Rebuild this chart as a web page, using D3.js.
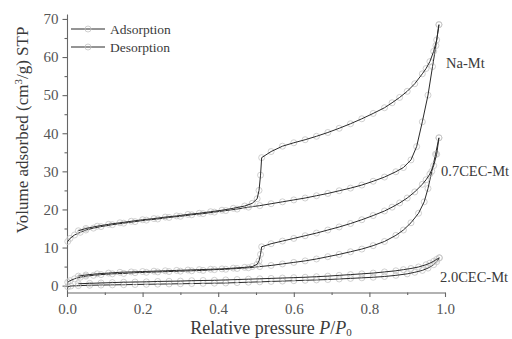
<!DOCTYPE html>
<html>
<head>
<meta charset="utf-8">
<script src="https://cdn.jsdelivr.net/npm/d3@7"></script>
<style>
	body { margin: 0; background: #fff; }
	svg { display: block; }
	text { font-family: "Liberation Serif", "Times New Roman", serif; fill: #3a3a3a; }
	.axis path, .axis line { stroke: #666; }
	.axis text { font-size: 15px; fill: #555; }
</style>
</head>
<body>
<div id="chart"></div>
<script>
// Isotherm data: [P/P0, volume]
var naAds = [[0.002,11.6],[0.008,12.4],[0.02,13.3],[0.035,14.0],[0.05,14.6],[0.07,15.1],[0.09,15.5],[0.12,16.0],[0.15,16.4],[0.18,16.8],[0.21,17.2],[0.24,17.5],[0.27,17.9],[0.30,18.2],[0.33,18.6],[0.36,18.9],[0.39,19.3],[0.42,19.7],[0.45,20.1],[0.48,20.6],[0.51,21.0],[0.54,21.5],[0.57,22.0],[0.60,22.5],[0.63,23.0],[0.66,23.6],[0.69,24.2],[0.72,24.9],[0.75,25.6],[0.78,26.4],[0.81,27.4],[0.84,28.5],[0.87,29.9],[0.89,31.0],[0.91,33.0],[0.925,36.5],[0.94,43.0],[0.955,50.0],[0.967,57.5],[0.976,63.0],[0.984,68.5]];
var naDes = [[0.984,68.5],[0.978,64.5],[0.97,61.5],[0.96,58.8],[0.95,57.0],[0.94,55.6],[0.92,53.0],[0.90,51.0],[0.88,49.4],[0.86,48.0],[0.84,46.7],[0.81,45.2],[0.78,43.8],[0.75,42.5],[0.72,41.3],[0.69,40.2],[0.66,39.2],[0.63,38.3],[0.60,37.5],[0.57,36.6],[0.54,35.2],[0.515,33.6],[0.512,29.0],[0.508,25.0],[0.503,22.8],[0.49,21.6],[0.47,20.9],[0.44,20.3],[0.41,19.8],[0.38,19.4],[0.35,19.0],[0.32,18.7],[0.29,18.3],[0.26,18.0],[0.23,17.6],[0.20,17.3],[0.17,16.9],[0.14,16.5],[0.11,16.1],[0.08,15.6],[0.05,15.0],[0.03,14.4]];
var cec07Ads = [[0.002,0.9],[0.008,1.3],[0.02,1.8],[0.035,2.2],[0.05,2.5],[0.07,2.7],[0.09,2.9],[0.12,3.1],[0.15,3.2],[0.18,3.4],[0.21,3.5],[0.24,3.6],[0.27,3.7],[0.30,3.8],[0.33,3.9],[0.36,4.0],[0.39,4.2],[0.42,4.3],[0.45,4.5],[0.48,4.7],[0.51,5.0],[0.54,5.3],[0.57,5.7],[0.60,6.1],[0.63,6.5],[0.66,7.0],[0.69,7.6],[0.72,8.2],[0.75,8.9],[0.78,9.6],[0.81,10.5],[0.84,11.6],[0.87,13.2],[0.89,14.6],[0.91,16.5],[0.93,19.0],[0.945,22.0],[0.955,25.5],[0.965,30.0],[0.975,34.5],[0.984,38.8]];
var cec07Des = [[0.984,38.8],[0.978,34.5],[0.97,31.5],[0.96,29.3],[0.95,27.8],[0.94,26.6],[0.92,24.6],[0.90,23.0],[0.88,21.7],[0.86,20.6],[0.84,19.6],[0.81,18.4],[0.78,17.3],[0.75,16.3],[0.72,15.4],[0.69,14.6],[0.66,13.8],[0.63,13.1],[0.60,12.4],[0.57,11.7],[0.54,11.0],[0.515,10.2],[0.512,8.2],[0.508,6.5],[0.503,5.6],[0.49,5.0],[0.47,4.8],[0.44,4.6],[0.41,4.4],[0.38,4.3],[0.35,4.2],[0.32,4.1],[0.29,4.0],[0.26,3.9],[0.23,3.8],[0.20,3.7],[0.17,3.6],[0.14,3.5],[0.11,3.3],[0.08,3.1],[0.05,2.8],[0.03,2.5]];
var cec20Ads = [[0.002,-0.3],[0.01,-0.1],[0.03,0.0],[0.06,0.1],[0.09,0.15],[0.12,0.2],[0.15,0.25],[0.18,0.3],[0.21,0.35],[0.24,0.4],[0.27,0.45],[0.30,0.5],[0.33,0.55],[0.36,0.6],[0.39,0.65],[0.42,0.7],[0.45,0.8],[0.48,0.9],[0.51,1.0],[0.54,1.1],[0.57,1.2],[0.60,1.3],[0.63,1.4],[0.66,1.5],[0.69,1.6],[0.72,1.75],[0.75,1.9],[0.78,2.05],[0.81,2.2],[0.84,2.4],[0.87,2.7],[0.90,3.1],[0.92,3.5],[0.94,4.0],[0.955,4.6],[0.97,5.5],[0.978,6.3],[0.985,7.3]];
var cec20Des = [[0.985,7.3],[0.978,6.9],[0.97,6.4],[0.96,5.9],[0.95,5.5],[0.93,4.9],[0.91,4.5],[0.89,4.2],[0.87,3.9],[0.84,3.6],[0.81,3.3],[0.78,3.1],[0.75,2.9],[0.72,2.7],[0.69,2.5],[0.66,2.35],[0.63,2.2],[0.60,2.1],[0.57,2.0],[0.54,1.9],[0.51,1.8],[0.48,1.7],[0.45,1.6],[0.42,1.5],[0.39,1.4],[0.36,1.35],[0.33,1.3],[0.30,1.2],[0.27,1.15],[0.24,1.1],[0.21,1.0],[0.18,0.95],[0.15,0.9],[0.12,0.8],[0.09,0.7],[0.06,0.6],[0.03,0.5]];

var sampleNames = ["Na-Mt", "0.7CEC-Mt", "2.0CEC-Mt"];
var sampleLabelAt = [[446, 68], [441, 176], [440, 282]]; // label anchor in px
var legendNames = ["Adsorption", "Desorption"];
var xTicks = [0, 0.2, 0.4, 0.6, 0.8, 1.0];
var yTicks = [0, 10, 20, 30, 40, 50, 60, 70];

var series = [naAds, naDes, cec07Ads, cec07Des, cec20Ads, cec20Des];

var width = 512, height = 339;
var x = d3.scaleLinear().domain([0, 1]).range([67, 445]);
var y = d3.scaleLinear().domain([-1.8, 71.3]).range([292.5, 14]);

var svg = d3.select("#chart").append("svg")
	.attr("width", width)
	.attr("height", height);

// minor ticks first so major ticks sit on top
svg.append("g")
	.attr("class", "axis")
	.attr("transform", "translate(0," + y.range()[0] + ")")
	.call(d3.axisBottom(x).tickValues(d3.range(0.1, 1, 0.2)).tickSize(2.5).tickFormat(""))
	.select(".domain").remove();
svg.append("g")
	.attr("class", "axis")
	.attr("transform", "translate(" + x.range()[0] + ",0)")
	.call(d3.axisLeft(y).tickValues(d3.range(5, 71, 10)).tickSize(2.5).tickFormat(""))
	.select(".domain").remove();

// X axis
svg.append("g")
	.attr("class", "axis")
	.attr("transform", "translate(0," + y.range()[0] + ")")
	.call(d3.axisBottom(x).tickValues(xTicks).tickSize(4.5).tickSizeOuter(0).tickPadding(6).tickFormat(d3.format(".1f")));

// Y axis
svg.append("g")
	.attr("class", "axis")
	.attr("transform", "translate(" + x.range()[0] + ",0)")
	.call(d3.axisLeft(y).tickValues(yTicks).tickSize(4.5).tickSizeOuter(0).tickPadding(4));

svg.selectAll(".axis path, .axis line").attr("stroke-width", 1.1);

// isotherm lines with open circle markers
var line = d3.line()
	.x(function(d) { return x(d[0]); })
	.y(function(d) { return y(d[1]); });

series.forEach(function(s) {
	svg.append("g").selectAll("circle")
		.data(s)
		.enter().append("circle")
		.attr("cx", function(d) { return x(d[0]); })
		.attr("cy", function(d) { return y(d[1]); })
		.attr("r", 3)
		.attr("fill", "none")
		.attr("stroke", "#c4c4c4")
		.attr("stroke-width", 0.8);
	svg.append("path")
		.attr("d", line(s))
		.attr("fill", "none")
		.attr("stroke", "#2a2a2a")
		.attr("stroke-width", 1);
});

// sample labels
svg.selectAll(".sample")
	.data(sampleNames)
	.enter().append("text")
	.attr("class", "sample")
	.attr("x", function(d, i) { return sampleLabelAt[i][0]; })
	.attr("y", function(d, i) { return sampleLabelAt[i][1]; })
	.attr("font-size", 14.5)
	.text(function(d) { return d; });

// legend
var leg = svg.selectAll(".legend")
	.data(legendNames)
	.enter().append("g")
	.attr("class", "legend")
	.attr("transform", function(d, i) { return "translate(71," + (29 + i * 18) + ")"; });
leg.append("line")
	.attr("x1", 0).attr("x2", 34)
	.attr("stroke", "#2a2a2a").attr("stroke-width", 1);
leg.append("circle")
	.attr("cx", 17).attr("r", 3)
	.attr("fill", "none").attr("stroke", "#c4c4c4").attr("stroke-width", 0.8);
leg.append("text")
	.attr("x", 39).attr("y", 4.5)
	.attr("font-size", 13.5)
	.text(function(d) { return d; });

// axis titles
var xt = svg.append("text")
	.attr("x", 271).attr("y", 334)
	.attr("text-anchor", "middle")
	.attr("font-size", 18);
xt.append("tspan").text("Relative pressure ");
xt.append("tspan").attr("font-style", "italic").text("P");
xt.append("tspan").text("/");
xt.append("tspan").attr("font-style", "italic").text("P");
xt.append("tspan").attr("font-size", 11).attr("dy", 2).text("0");

var yt = svg.append("text")
	.attr("transform", "translate(28,130) rotate(-90)")
	.attr("text-anchor", "middle")
	.attr("font-size", 17);
yt.append("tspan").text("Volume adsorbed (cm");
yt.append("tspan").attr("font-size", 11).attr("dy", -6).text("3");
yt.append("tspan").attr("dy", 6).text("/g) STP");
</script>
</body>
</html>
